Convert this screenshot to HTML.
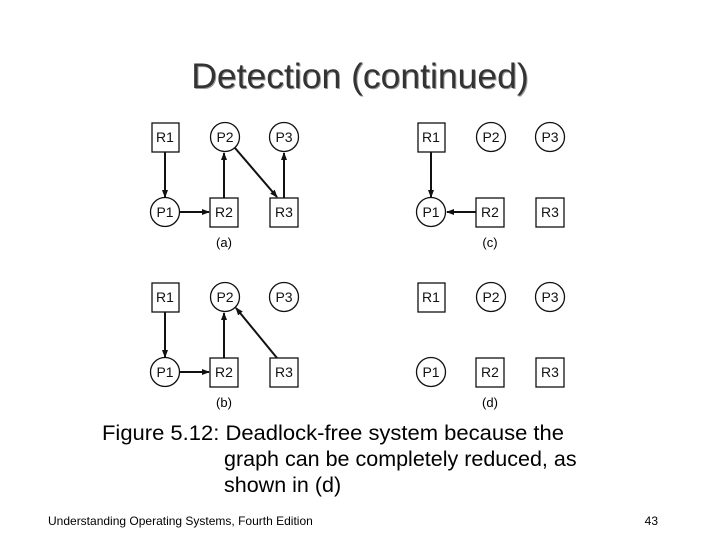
<!DOCTYPE html>
<html><head><style>
html,body{margin:0;padding:0;background:#fff;}
svg{display:block}
text{font-family:"Liberation Sans",Arial,sans-serif;}
</style></head><body>
<svg width="720" height="540" viewBox="0 0 720 540" xmlns="http://www.w3.org/2000/svg">
<defs>
<marker id="ah" markerWidth="8" markerHeight="8" refX="7" refY="4" orient="auto" markerUnits="userSpaceOnUse">
<path d="M0,1 L8,4 L0,7 z" fill="#111"/></marker>
<g id="nodes" stroke="#111" stroke-width="1.3" fill="#fff">
<rect x="152" y="123" width="27" height="29"/>
<circle cx="225" cy="137" r="14.5"/>
<circle cx="284" cy="137" r="14.5"/>
<circle cx="165" cy="212" r="14.5"/>
<rect x="210" y="198" width="28" height="29"/>
<rect x="270" y="198" width="28" height="29"/>
</g>
<g id="labels" font-size="14" fill="#111" text-anchor="middle" font-family="Liberation Sans, sans-serif">
<text x="165" y="142">R1</text>
<text x="225" y="142">P2</text>
<text x="284" y="142">P3</text>
<text x="165" y="217">P1</text>
<text x="224" y="217">R2</text>
<text x="284" y="217">R3</text>
</g>
</defs>
<text x="361" y="89" font-size="35.5" text-anchor="middle" fill="#9a9a9a">Detection (continued)</text>
<text x="360" y="88" font-size="35.5" text-anchor="middle" fill="#333">Detection (continued)</text>
<g>
<use href="#nodes"/><use href="#labels"/>
<g stroke="#111" stroke-width="2" marker-end="url(#ah)">
<line x1="165" y1="152" x2="165" y2="197"/>
<line x1="180" y1="212" x2="209" y2="212"/>
<line x1="224" y1="198" x2="224" y2="153"/>
<line x1="235" y1="148" x2="277" y2="197"/>
<line x1="284" y1="198" x2="284" y2="153"/>
</g>
<text x="224" y="247" font-size="13" text-anchor="middle">(a)</text>
</g>
<g transform="translate(0,160)">
<use href="#nodes"/><use href="#labels"/>
<g stroke="#111" stroke-width="2" marker-end="url(#ah)">
<line x1="165" y1="152" x2="165" y2="197"/>
<line x1="180" y1="212" x2="209" y2="212"/>
<line x1="224" y1="198" x2="224" y2="153"/>
<line x1="277" y1="198" x2="236" y2="148"/>
</g>
<text x="224" y="247" font-size="13" text-anchor="middle">(b)</text>
</g>
<g transform="translate(266,0)">
<use href="#nodes"/><use href="#labels"/>
<g stroke="#111" stroke-width="2" marker-end="url(#ah)">
<line x1="165" y1="152" x2="165" y2="197"/>
<line x1="210" y1="212" x2="181" y2="212"/>
</g>
<text x="224" y="247" font-size="13" text-anchor="middle">(c)</text>
</g>
<g transform="translate(266,160)">
<use href="#nodes"/><use href="#labels"/>
<text x="224" y="247" font-size="13" text-anchor="middle">(d)</text>
</g>
<g font-size="21.5" fill="#000">
<text x="102" y="440" textLength="462" lengthAdjust="spacingAndGlyphs">Figure 5.12: Deadlock-free system because the</text>
<text x="224" y="466">graph can be completely reduced, as</text>
<text x="224" y="492">shown in (d)</text>
</g>
<text x="48" y="525" font-size="12">Understanding Operating Systems, Fourth Edition</text>
<text x="658" y="525" font-size="12" text-anchor="end">43</text>
</svg>
</body></html>
